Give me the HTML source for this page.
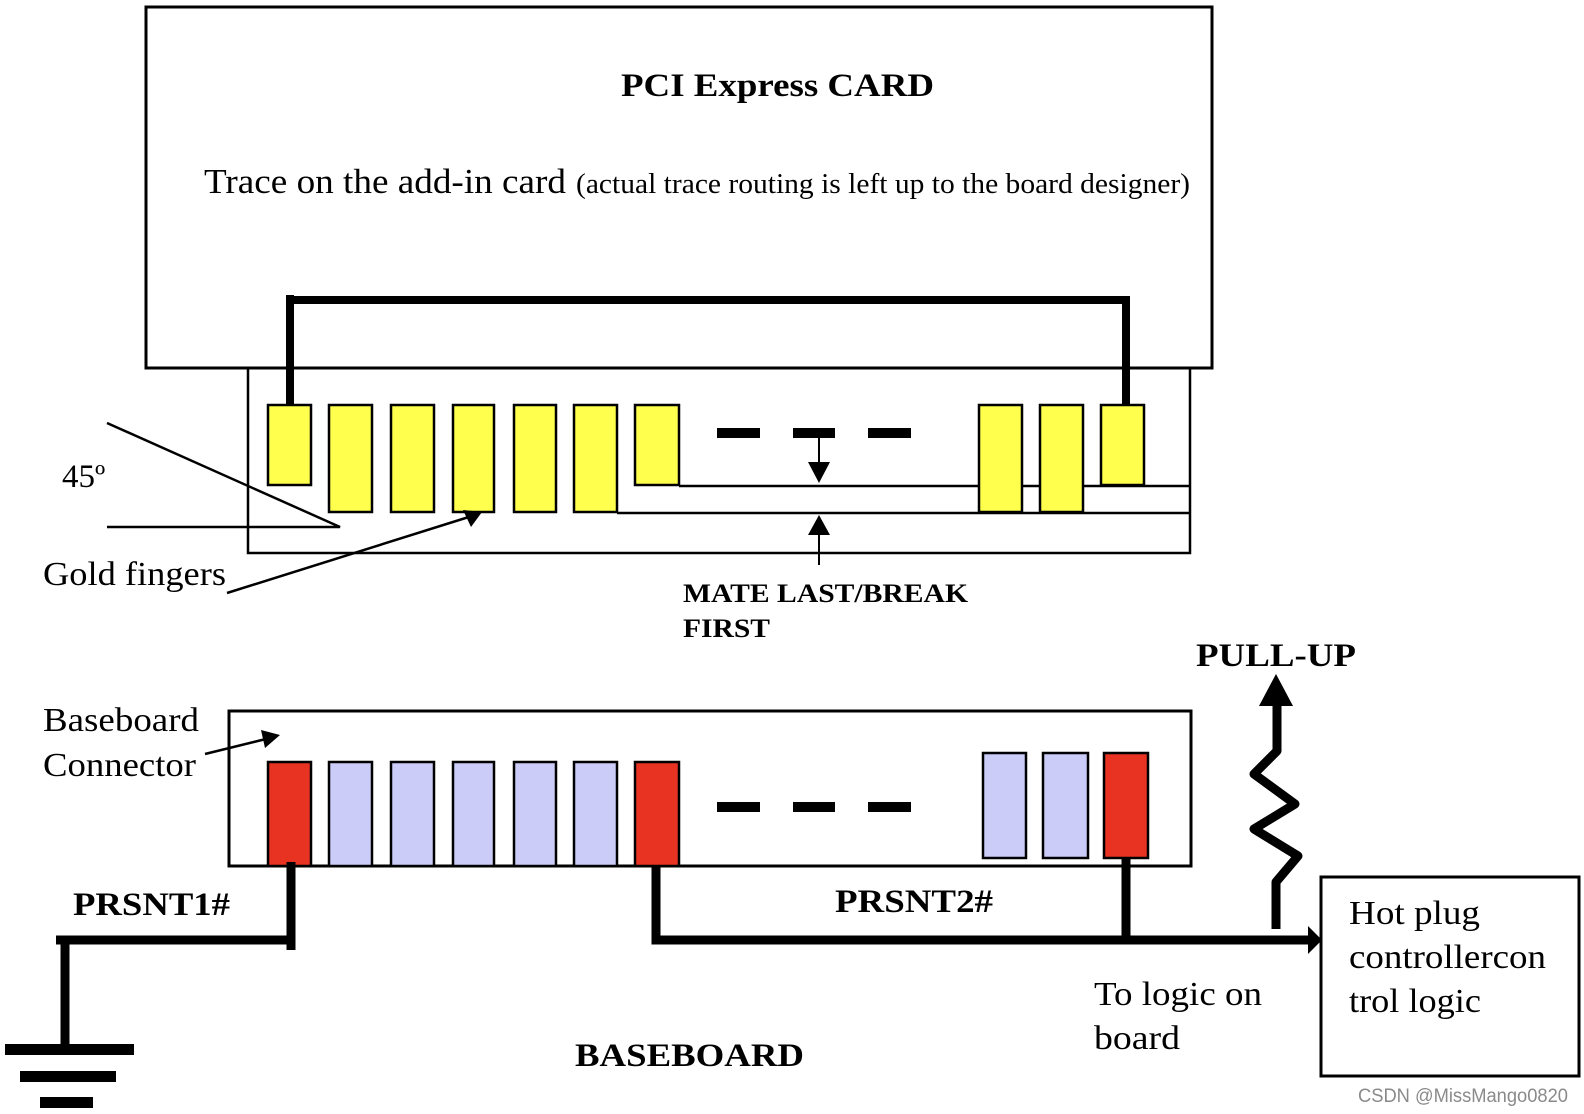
<!DOCTYPE html>
<html><head><meta charset="utf-8"><style>
html,body{margin:0;padding:0;background:#fff;}
svg{display:block;}
text{font-family:"Liberation Serif",serif;fill:#000;}
</style></head><body>
<svg width="1584" height="1114" viewBox="0 0 1584 1114" xmlns="http://www.w3.org/2000/svg">
<!-- card -->
<rect x="146" y="7" width="1066" height="361" fill="none" stroke="#000" stroke-width="3"/>
<text x="621" y="96" font-size="33" font-weight="bold" textLength="313" lengthAdjust="spacingAndGlyphs">PCI Express CARD</text>
<text x="204" y="193" font-size="35" textLength="362" lengthAdjust="spacingAndGlyphs">Trace on the add-in card</text>
<text x="576" y="193" font-size="29" textLength="614" lengthAdjust="spacingAndGlyphs">(actual trace routing is left up to the board designer)</text>
<!-- connector edge -->
<path d="M248 368 V553 H1190 V368" fill="none" stroke="#000" stroke-width="2.5"/>
<!-- thick trace -->
<path d="M290 295 V405 M290 300 H1126 V405" fill="none" stroke="#000" stroke-width="8"/>
<!-- mate lines -->
<path d="M679 486 H1190 M617 513 H1190" stroke="#000" stroke-width="2.5" fill="none"/>
<!-- fingers -->
<g fill="#ffff4d" stroke="#000" stroke-width="2.5">
<rect x="268" y="405" width="43" height="80"/>
<rect x="329" y="405" width="43" height="107"/>
<rect x="391" y="405" width="43" height="107"/>
<rect x="453" y="405" width="41" height="107"/>
<rect x="514" y="405" width="42" height="107"/>
<rect x="574" y="405" width="43" height="107"/>
<rect x="635" y="405" width="44" height="80"/>
<rect x="979" y="405" width="43" height="107"/>
<rect x="1040" y="405" width="43" height="107"/>
<rect x="1101" y="405" width="43" height="80"/>
</g>
<g fill="#000">
<rect x="717" y="428" width="43" height="10"/>
<rect x="793" y="428" width="42" height="10"/>
<rect x="868" y="428" width="43" height="10"/>
</g>
<!-- mate arrows -->
<path d="M819 438 V466 M819 565 V532" stroke="#000" stroke-width="2"/>
<polygon points="808,462 830,462 819,483" fill="#000"/>
<polygon points="808,535 830,535 819,515" fill="#000"/>
<text x="683" y="602" font-size="26" font-weight="bold" textLength="285" lengthAdjust="spacingAndGlyphs">MATE LAST/BREAK</text>
<text x="683" y="637" font-size="26" font-weight="bold" textLength="87" lengthAdjust="spacingAndGlyphs">FIRST</text>
<!-- 45 degree -->
<path d="M107 423 L340 527 H107" fill="none" stroke="#000" stroke-width="2.5"/>
<text x="62" y="487" font-size="33">45º</text>
<text x="43" y="585" font-size="34" textLength="183" lengthAdjust="spacingAndGlyphs">Gold fingers</text>
<path d="M227 593 L472 516" stroke="#000" stroke-width="2.5"/>
<polygon points="482,512 463,510 471,527" fill="#000"/>
<!-- baseboard connector -->
<rect x="229" y="711" width="962" height="155" fill="none" stroke="#000" stroke-width="3"/>
<text x="43" y="731" font-size="34" textLength="156" lengthAdjust="spacingAndGlyphs">Baseboard</text>
<text x="43" y="776" font-size="34" textLength="153" lengthAdjust="spacingAndGlyphs">Connector</text>
<path d="M205 754 L270 738" stroke="#000" stroke-width="2.5"/>
<polygon points="280,735 261,730 265,748" fill="#000"/>
<g stroke="#000" stroke-width="2.5">
<rect x="268" y="762" width="43" height="104" fill="#e83323"/>
<rect x="329" y="762" width="43" height="104" fill="#ccccf8"/>
<rect x="391" y="762" width="43" height="104" fill="#ccccf8"/>
<rect x="453" y="762" width="41" height="104" fill="#ccccf8"/>
<rect x="514" y="762" width="42" height="104" fill="#ccccf8"/>
<rect x="574" y="762" width="43" height="104" fill="#ccccf8"/>
<rect x="635" y="762" width="44" height="104" fill="#e83323"/>
<rect x="983" y="753" width="43" height="105" fill="#ccccf8"/>
<rect x="1043" y="753" width="45" height="105" fill="#ccccf8"/>
<rect x="1104" y="753" width="44" height="105" fill="#e83323"/>
</g>
<g fill="#000">
<rect x="717" y="802" width="43" height="10"/>
<rect x="793" y="802" width="42" height="10"/>
<rect x="868" y="802" width="43" height="10"/>
</g>
<!-- PRSNT1 wiring -->
<path d="M291 862 V950 M56 940 H291 M65 940 V1049" stroke="#000" stroke-width="9" fill="none"/>
<rect x="5" y="1044" width="129" height="11" fill="#000"/>
<rect x="20" y="1071" width="96" height="11" fill="#000"/>
<rect x="40" y="1097" width="53" height="11" fill="#000"/>
<text x="73" y="915" font-size="33" font-weight="bold" textLength="157" lengthAdjust="spacingAndGlyphs">PRSNT1#</text>
<!-- PRSNT2 wiring -->
<path d="M656 866 V940 H1310 M1126 858 V940" stroke="#000" stroke-width="9" fill="none"/>
<polygon points="1308,926 1322,940 1308,954" fill="#000"/>
<text x="835" y="912" font-size="33" font-weight="bold" textLength="158" lengthAdjust="spacingAndGlyphs">PRSNT2#</text>
<!-- resistor -->
<path d="M1276 929 V882 L1298 856 L1254 829 L1295 804 L1254 774 L1277 751 V701" stroke="#000" stroke-width="9" fill="none" stroke-linejoin="round"/>
<polygon points="1259,706 1293,706 1276,674" fill="#000"/>
<text x="1196" y="666" font-size="33" font-weight="bold" textLength="160" lengthAdjust="spacingAndGlyphs">PULL-UP</text>
<text x="1094" y="1005" font-size="34" textLength="168" lengthAdjust="spacingAndGlyphs">To logic on</text>
<text x="1094" y="1049" font-size="34" textLength="86" lengthAdjust="spacingAndGlyphs">board</text>
<!-- hot plug box -->
<rect x="1321" y="877" width="258" height="199" fill="none" stroke="#000" stroke-width="3"/>
<text x="1349" y="924" font-size="34" textLength="131" lengthAdjust="spacingAndGlyphs">Hot plug</text>
<text x="1349" y="968" font-size="34" textLength="197" lengthAdjust="spacingAndGlyphs">controllercon</text>
<text x="1349" y="1012" font-size="34" textLength="132" lengthAdjust="spacingAndGlyphs">trol logic</text>
<text x="575" y="1066" font-size="33" font-weight="bold" textLength="229" lengthAdjust="spacingAndGlyphs">BASEBOARD</text>
<text x="1358" y="1102" font-size="19" style="font-family:'Liberation Sans',sans-serif;fill:#8a8a8a" textLength="210" lengthAdjust="spacingAndGlyphs">CSDN @MissMango0820</text>
</svg>
</body></html>
